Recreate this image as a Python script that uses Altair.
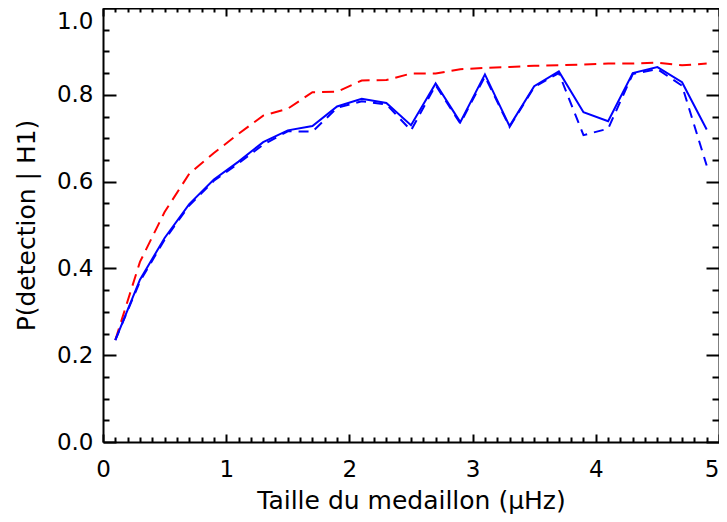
import altair as alt
import pandas as pd

# ---- data ----
x_mhz = [0.1, 0.3, 0.5, 0.7, 0.9, 1.1, 1.3, 1.5, 1.7, 1.9, 2.1, 2.3, 2.5,
         2.7, 2.9, 3.1, 3.3, 3.5, 3.7, 3.9, 4.1, 4.3, 4.5, 4.7, 4.9]
p_blue_solid = [0.235, 0.374, 0.470, 0.548, 0.605, 0.646, 0.691, 0.718, 0.728,
                0.773, 0.791, 0.781, 0.730, 0.826, 0.737, 0.847, 0.728, 0.820,
                0.854, 0.760, 0.739, 0.850, 0.864, 0.829, 0.720]
p_blue_dashed = [0.235, 0.370, 0.466, 0.545, 0.602, 0.642, 0.685, 0.716, 0.715,
                 0.770, 0.785, 0.778, 0.718, 0.822, 0.734, 0.842, 0.726, 0.818,
                 0.850, 0.707, 0.722, 0.848, 0.859, 0.821, 0.637]
p_red = [0.235, 0.415, 0.530, 0.618, 0.666, 0.710, 0.752, 0.768, 0.806,
         0.807, 0.833, 0.834, 0.849, 0.849, 0.859, 0.862, 0.864, 0.867,
         0.868, 0.870, 0.872, 0.872, 0.874, 0.868, 0.872]

x_tick_values = [round(i * 0.1, 1) for i in range(51)]
y_tick_values = [round(i * 0.05, 2) for i in range(21)]

df = pd.DataFrame({"x": x_mhz, "solid": p_blue_solid,
                   "dashed": p_blue_dashed, "red": p_red})

FONT = "DejaVu Sans"
x_major = "abs(datum.value - round(datum.value)) < 1e-6"
y_major = "abs(datum.value * 5 - round(datum.value * 5)) < 1e-6"

xscale = alt.Scale(domain=[0, 5], nice=False, zero=False)
yscale = alt.Scale(domain=[0, 1], nice=False, zero=False)

common = dict(grid=False, domain=True, domainColor="black", domainWidth=2,
              ticks=True, tickColor="black", tickWidth=2,
              labelFont=FONT, labelColor="black", labelFontSize=23,
              labelOverlap=False, labelFlush=False, labelBound=False,
              titleFont=FONT, titleColor="black", titleFontSize=25,
              titleFontWeight="normal")

x_bottom = alt.Axis(
    orient="bottom", values=x_tick_values,
    tickSize={"condition": {"test": x_major, "value": -8}, "value": -5},
    labelExpr=f"({x_major}) ? format(datum.value, 'd') : ''",
    labelPadding=24, labelBaseline="top",
    labelAlign={"condition": {"test": "datum.value > 4.99", "value": "right"},
                "value": "center"},
    title="Taille du medaillon (μHz)", titleX=308, titleY=66,
    titleAlign="center", titleBaseline="alphabetic", **common)

x_top = alt.Axis(
    orient="top", values=x_tick_values, labels=False, title=None,
    tickSize={"condition": {"test": x_major, "value": -8}, "value": -4},
    **common)

y_left = alt.Axis(
    orient="left", values=y_tick_values,
    tickSize={"condition": {"test": y_major, "value": -13}, "value": -6},
    labelExpr=f"({y_major}) ? format(datum.value, '.1f') : ''",
    labelPadding=23,
    labelBaseline={"condition": {"test": "datum.value > 0.99", "value": "top"},
                   "value": "middle"},
    labelOffset={"condition": {"test": "datum.value > 0.99", "value": 2},
                 "value": 0},
    title="P(detection | H1)", titleAngle=270, titleX=-77, titleY=217,
    titleAlign="center", titleBaseline="middle", **common)

y_right = alt.Axis(
    orient="right", values=y_tick_values, labels=False, title=None,
    tickSize={"condition": {"test": y_major, "value": -13}, "value": -7},
    **common)

base = alt.Chart(df)

red = base.mark_line(color="#ff0000", strokeDash=[12, 7], strokeWidth=2).encode(
    x=alt.X("x:Q", scale=xscale, axis=x_bottom),
    y=alt.Y("red:Q", scale=yscale, axis=y_left))

dashed = base.mark_line(color="#0000ff", strokeDash=[10, 7], strokeWidth=2).encode(
    x=alt.X("x:Q", scale=xscale, axis=None),
    y=alt.Y("dashed:Q", scale=yscale, axis=None))

solid = base.mark_line(color="#0000ff", strokeWidth=2).encode(
    x=alt.X("x:Q", scale=xscale, axis=x_top),
    y=alt.Y("solid:Q", scale=yscale, axis=y_right))

chart = alt.layer(red, dashed, solid).resolve_axis(
    x="independent", y="independent"
).properties(
    width=616, height=434,
    padding={"left": 95, "top": 0, "right": 0, "bottom": 72},
    autosize=alt.AutoSizeParams(type="none"),
    background="white",
).configure_view(stroke=None)

chart.save("out.html", embed_options={"renderer": "svg", "actions": False})
